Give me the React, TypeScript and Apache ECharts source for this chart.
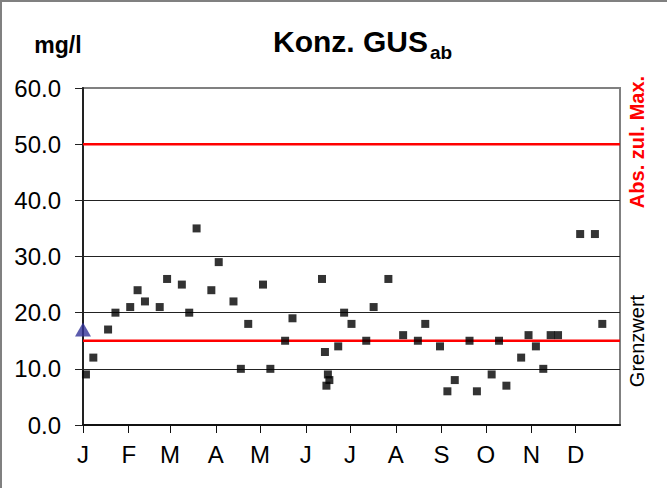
import React, { useEffect, useRef } from "react";
import * as echarts from "echarts";

const monthStarts = [0, 31, 59, 90, 120, 151, 181, 212, 243, 273, 304, 334];
const monthLabels = ["J", "F", "M", "A", "M", "J", "J", "A", "S", "O", "N", "D"];
const yTicks = [0, 10, 20, 30, 40, 50, 60];

// day of year (0 = 1 Jan) and concentration (mg/l)
const sampleDays = [
  2, 7, 17, 22, 32, 37, 42, 52, 57, 67, 72, 77, 87, 92, 102, 107, 112, 122, 127, 137,
  142, 162, 164, 165, 166, 167, 173, 177, 182, 192, 197, 207, 217, 227, 232, 242, 247,
  252, 262, 267, 277, 282, 287, 297, 302, 307, 312, 317, 322, 337, 347, 352,
];
const sampleValues = [
  9, 12, 17, 20, 21, 24, 22, 21, 26, 25, 20, 35, 24, 29, 22, 10, 18, 25, 10, 15,
  19, 26, 13, 7, 9, 8, 14, 20, 18, 15, 21, 26, 16, 15, 18, 14, 6,
  8, 15, 6, 9, 15, 7, 12, 16, 14, 10, 16, 16, 34, 34, 18,
];
const startDay = [0];
const startValue = [17];
const grenzwert = 15;
const absMax = 50;
const yearEnd = 364;

const FONT = "'Liberation Sans', Arial, sans-serif";

export default function App() {
  const ref = useRef<HTMLDivElement>(null);
  useEffect(() => {
    if (!ref.current) return;
    const chart = echarts.init(ref.current, null, { renderer: "svg" });
    const scatterData = sampleDays.map((d, i) => [d, sampleValues[i]]);
    const option: any = {
      animation: false,
      backgroundColor: "#ffffff",
      textStyle: { fontFamily: FONT },
      grid: {
        left: 83,
        top: 88,
        right: 47,
        bottom: 63,
        show: true,
        borderColor: "#808080",
        borderWidth: 2,
        backgroundColor: "#ffffff",
      },
      xAxis: {
        type: "value",
        min: 0,
        max: yearEnd,
        axisLine: { show: true, onZero: false, lineStyle: { color: "#111", width: 2 } },
        axisTick: {
          show: true,
          length: 8,
          customValues: monthStarts,
          lineStyle: { color: "#111", width: 1 },
        },
        axisLabel: {
          customValues: monthStarts,
          formatter: (v: number) => {
            const i = monthStarts.indexOf(Math.round(v));
            return i >= 0 ? monthLabels[i] : "";
          },
          fontSize: 24,
          color: "#000",
          fontFamily: FONT,
          margin: 17,
        },
        splitLine: { show: false },
      },
      yAxis: {
        type: "value",
        min: yTicks[0],
        max: yTicks[yTicks.length - 1],
        interval: 10,
        axisLine: { show: true, lineStyle: { color: "#222", width: 2 } },
        axisTick: { show: true, length: 8, lineStyle: { color: "#222", width: 1 } },
        axisLabel: {
          formatter: (v: number) => v.toFixed(1),
          fontSize: 24,
          color: "#000",
          fontFamily: FONT,
          margin: 22,
        },
        splitLine: {
          show: true,
          lineStyle: {
            color: ["#222", "#222", "#222", "#222", "#222", "#222", "#808080"],
            width: 1,
          },
        },
      },
      series: [
        {
          type: "line",
          data: [
            [0, grenzwert],
            [yearEnd, grenzwert],
          ],
          symbol: "none",
          lineStyle: { color: "#ff0000", width: 2.5 },
          z: 1,
          silent: true,
        },
        {
          type: "line",
          data: [
            [0, absMax],
            [yearEnd, absMax],
          ],
          symbol: "none",
          lineStyle: { color: "#ff0000", width: 2.5 },
          z: 1,
          silent: true,
        },
        {
          type: "scatter",
          data: scatterData,
          symbol: "rect",
          symbolSize: 8,
          itemStyle: { color: "#000000" },
          clip: false,
          z: 3,
        },
        {
          type: "scatter",
          data: startDay.map((d, i) => [d, startValue[i]]),
          symbol: "triangle",
          symbolSize: [16, 14],
          itemStyle: { color: "#333399" },
          clip: false,
          z: 4,
        },
      ],
      graphic: [
        {
          type: "line",
          shape: { x1: 1, y1: 0, x2: 1, y2: 488 },
          style: { stroke: "#808080", lineWidth: 2 },
        },
        {
          type: "line",
          shape: { x1: 0, y1: 1, x2: 667, y2: 1 },
          style: { stroke: "#808080", lineWidth: 2 },
        },
        {
          type: "text",
          x: 58,
          y: 45,
          style: {
            text: "mg/l",
            font: `bold 23px ${FONT}`,
            fill: "#000",
            align: "center",
            verticalAlign: "middle",
          },
        },
        {
          type: "text",
          x: 428,
          y: 41,
          style: {
            text: "Konz. GUS",
            font: `bold 30px ${FONT}`,
            fill: "#000",
            align: "right",
            verticalAlign: "middle",
          },
        },
        {
          type: "text",
          x: 430,
          y: 52,
          style: {
            text: "ab",
            font: `bold 19px ${FONT}`,
            fill: "#000",
            align: "left",
            verticalAlign: "middle",
          },
        },
        {
          type: "text",
          x: 637,
          y: 142,
          rotation: Math.PI / 2,
          style: {
            text: "Abs. zul. Max.",
            font: `bold 20px ${FONT}`,
            fill: "#ff0000",
            align: "center",
            verticalAlign: "middle",
          },
        },
        {
          type: "text",
          x: 637,
          y: 341,
          rotation: Math.PI / 2,
          style: {
            text: "Grenzwert",
            font: `20px ${FONT}`,
            fill: "#000",
            align: "center",
            verticalAlign: "middle",
          },
        },
      ],
    };
    chart.setOption(option);
    return () => chart.dispose();
  }, []);
  return (
    <div
      ref={ref}
      style={{ position: "fixed", left: 0, top: 0, width: 667, height: 488 }}
    />
  );
}
